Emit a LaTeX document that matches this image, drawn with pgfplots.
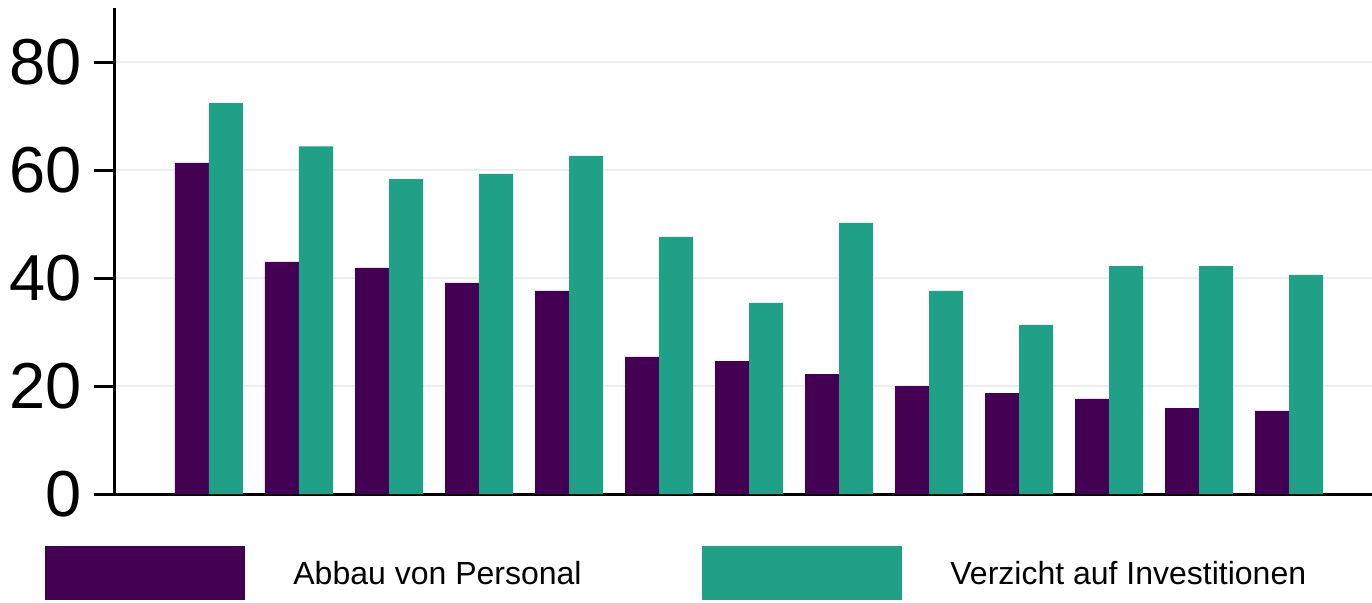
\documentclass[border=0pt]{standalone}
\usepackage{fontspec}
\setmainfont{Liberation Sans}
\usepackage{pgfplots}
\pgfplotsset{compat=1.18}
\definecolor{cpurple}{HTML}{440154}
\definecolor{cteal}{HTML}{21A088}
\definecolor{cgrid}{HTML}{EDEDED}
\begin{document}
\begin{tikzpicture}
\begin{axis}[
  at={(0,0)}, anchor=south west,
  scale only axis,
  width=628.5pt, height=243pt,
  xmin=-1.0444, xmax=12.922,
  ymin=0, ymax=90,
  axis x line*=bottom, axis y line*=left,
  axis line style={line width=1.5pt, black, -},
  xtick=\empty,
  ytick={0,20,40,60,80},
  tick align=outside,
  major tick length=10.5pt,
  ytick style={line width=1.5pt, black},
  ymajorgrids,
  grid style={line width=1.3pt, cgrid},
  yticklabel style={font=\fontsize{32.5}{32.5}\selectfont, inner sep=0pt, xshift=-6pt},
  /pgf/number format/assume math mode=true,
  ybar=0pt, bar width=17pt,
  clip=false,
]
\addplot[fill=cpurple, draw=none] coordinates {
(0,61.3) (1,43.0) (2,41.9) (3,39.1) (4,37.6) (5,25.4) (6,24.6) (7,22.2) (8,20.0) (9,18.7) (10,17.6) (11,15.9) (12,15.4)};
\addplot[fill=cteal, draw=none] coordinates {
(0,72.4) (1,64.4) (2,58.3) (3,59.3) (4,62.6) (5,47.6) (6,35.4) (7,50.2) (8,37.6) (9,31.3) (10,42.2) (11,42.2) (12,40.6)};
\end{axis}
\fill[cpurple] (-35pt,-53pt) rectangle (65pt,-26pt);
\node[anchor=west, inner sep=0pt, font=\fontsize{16}{16}\selectfont] at (89pt,-39.5pt) {Abbau von Personal};
\fill[cteal] (293.5pt,-53pt) rectangle (393.5pt,-26pt);
\node[anchor=west, inner sep=0pt, font=\fontsize{16}{16}\selectfont] at (417.5pt,-39.5pt) {Verzicht auf Investitionen};
\pgfresetboundingbox
\useasboundingbox (-57.5pt,-54pt) rectangle (628.5pt,247pt);
\end{tikzpicture}
\end{document}
